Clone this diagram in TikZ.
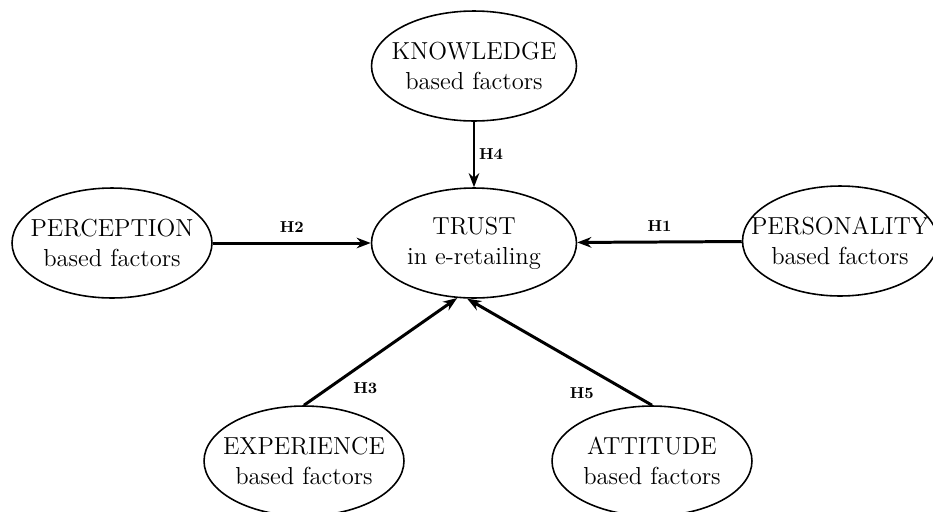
\documentclass[tikz,border=0pt]{standalone}
\usepackage{amsmath}
\usetikzlibrary{shapes.geometric}
\usetikzlibrary{arrows.meta}

\tikzset{
  factor/.style={ellipse, draw, line width=0.9pt, inner xsep=-0.5cm, inner ysep=0pt,
    minimum width=4.1cm, minimum height=2.2cm, align=center,
    font=\fontsize{14}{17}\selectfont},
  hyp/.style={line width=1.7pt, -{Stealth[length=8pt,width=6pt]}},
  hlabel/.style={font=\fontsize{9}{11}\selectfont\bfseries, inner sep=2pt}
}

\begin{document}
\begin{tikzpicture}[x=0.02cm, y=-0.02cm]
\useasboundingbox (0,0) rectangle (933,511);

\node[factor] (trust) at (474,243) {TRUST\\in e-retailing};
\node[factor] (know) at (474,66) {KNOWLEDGE\\based factors};
\node[factor, minimum width=4.0cm] (perc) at (112,243) {PERCEPTION\\based factors};
\node[factor, minimum width=3.9cm] (pers) at (840,241) {PERSONALITY\\based factors};
\node[factor, minimum width=4.0cm] (exp) at (304,461) {EXPERIENCE\\based factors};
\node[factor, minimum width=4.0cm] (att) at (652,461) {ATTITUDE\\based factors};

\draw[hyp] (know) -- node[hlabel, midway, right] {H4} (trust);
\draw[hyp] (perc) -- node[hlabel, midway, above=3pt] {H2} (trust);
\draw[hyp] (pers) -- node[hlabel, midway, above=3pt] {H1} (trust);
\draw[hyp] (exp.north) -- node[hlabel, pos=0.4, below=0.3cm] {H3} (trust.-107);
\draw[hyp] (att.north) -- node[hlabel, pos=0.38, below=0.35cm] {H5} (trust.-97);
\end{tikzpicture}
\end{document}
